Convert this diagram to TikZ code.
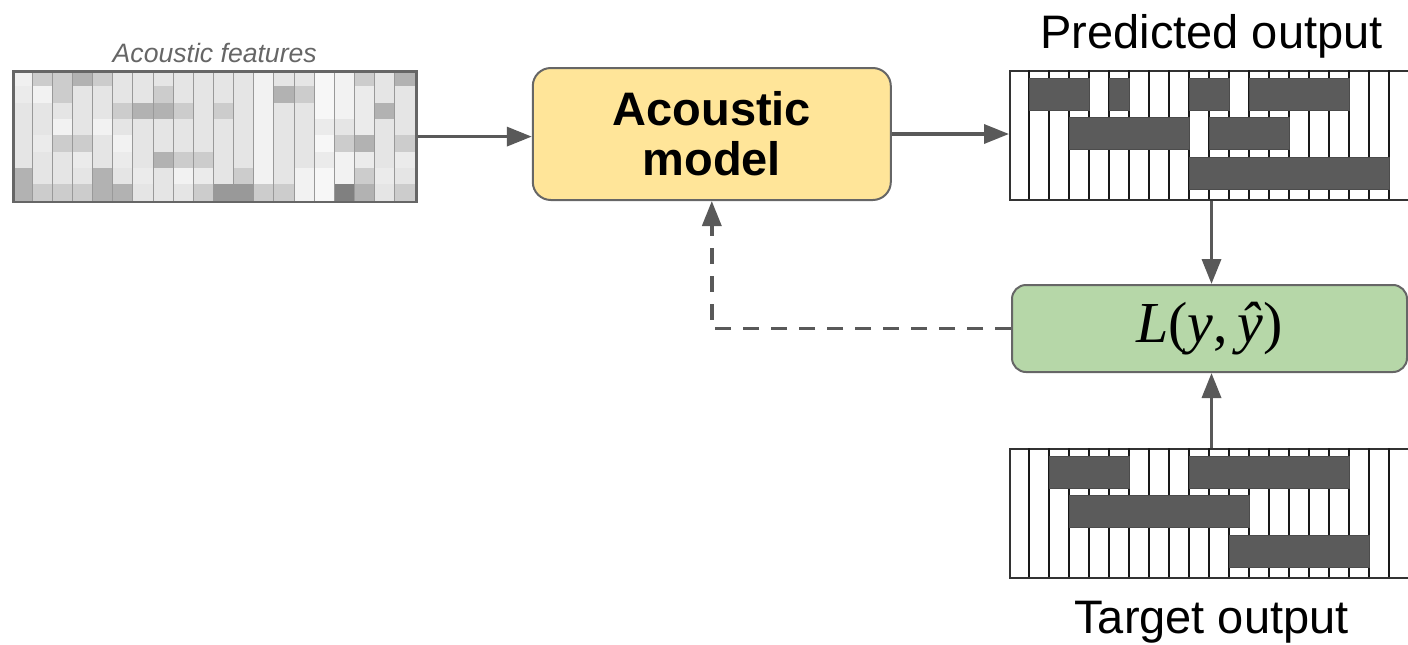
\documentclass[tikz,border=0pt]{standalone}
\usepackage{fontspec}
\setmainfont{Liberation Sans}
\newfontfamily\lossfont{Liberation Serif}
\usetikzlibrary{arrows.meta,positioning}

\definecolor{modelfill}{HTML}{FFE599}
\definecolor{lossfill}{HTML}{B6D7A8}
\definecolor{edgegray}{HTML}{666666}
\definecolor{linkgray}{HTML}{595959}
\definecolor{notegray}{HTML}{5B5B5B}

\tikzset{
  box/.style={draw=edgegray, line width=2pt, rounded corners=18pt, inner sep=0pt},
  roll/.style={draw=black!80, line width=2pt, anchor=north west,
    minimum width=403pt, minimum height=129pt, inner sep=0pt},
  gridline/.style={draw=black!90, line width=1.3pt},
  note/.style={fill=notegray, draw=black!70, line width=0.8pt},
  link/.style={draw=linkgray, line width=3.5pt, -{Triangle[length=25pt,width=19pt]}},
  feedback/.style={link, dash pattern=on 16pt off 12pt},
  caption/.style={inner sep=0pt, font=\fontsize{47}{47}\selectfont},
}

\begin{document}
\begin{tikzpicture}[x=1pt, y=-1pt]
      \useasboundingbox (0, 0) rectangle (1408, 645);

      % feature matrix, one list of grey levels per frame
      \begin{scope}[shift={(12, 70)}]
        \foreach \column [count=\c from 0] in {
            {94,92,90,90,90,90,70,70}, {80,95,90,90,92,90,90,80},
            {80,80,90,95,80,90,90,80}, {70,90,90,90,80,92,90,80},
            {80,90,90,95,90,90,70,70}, {90,90,80,90,95,92,90,70},
            {90,90,70,90,90,90,92,90}, {90,80,70,90,90,70,90,90},
            {90,90,80,90,90,80,95,90}, {90,90,90,90,90,80,92,80},
            {90,90,80,90,90,90,90,60}, {90,90,90,90,90,90,80,60},
            {95,95,95,95,95,95,95,80}, {90,70,90,90,90,90,90,80},
            {90,80,90,90,90,90,95,95}, {97,97,97,92,97,92,97,97},
            {95,95,95,90,80,95,95,50}, {80,92,92,92,70,92,80,70},
            {90,90,70,90,90,90,92,90}, {70,90,90,90,80,92,90,80}}
          \foreach \g [count=\r from 0] in \column
            \fill [white!\g!black] (20.15*\c, 16.34*\r) rectangle ++(20.15, 16.34);
        \foreach \c in {1,...,19}
          \draw [black!40, line width=1pt] (20.15*\c, 0) -- (20.15*\c, 130.7);
      \end{scope}
      \node (feat) [draw=edgegray, line width=2.5pt, anchor=north west,
        minimum width=403pt, minimum height=130.7pt, inner sep=0pt] at (12, 70) {};
      \node (featlabel) [above=7pt of feat, inner sep=0pt, text=edgegray,
        font=\fontsize{26.6}{27}\selectfont\itshape] {Acoustic features};

      \node (model) [box, fill=modelfill, minimum width=358pt, minimum height=132pt,
        align=center, font=\bfseries\fontsize{47}{50}\selectfont] at (711.8, 134) {Acoustic\\model};

      \node (pred) [roll] at (1009, 70) {};
      \node (target) [roll] at (1009, 448) {};
      \foreach \roll/\notes in {pred/{1/4/0, 5/6/0, 9/11/0, 12/17/0, 3/9/1, 10/14/1, 9/19/2},
                                target/{2/6/0, 9/17/0, 3/12/1, 11/18/2}} {
        \begin{scope}[shift={(\roll.north west)}]
          \foreach \i in {1,...,19}
            \draw [gridline] (20*\i, 0) -- (20*\i, 129);
          \foreach \a/\b/\r in \notes
            \filldraw [note] (20*\a, 8+39.5*\r) rectangle (20*\b, 40+39.5*\r);
        \end{scope}
      }
      \node (predlabel) [caption, above=12pt of pred] {Predicted output};
      \node (targetlabel) [caption, below=22pt of target] {Target output};

      \node (loss) [box, fill=lossfill, rounded corners=14pt, minimum width=395pt,
        minimum height=87pt, font=\lossfont\fontsize{58}{58}\selectfont] at (1209.5, 328.5)
        {\textit{L}(\textit{y},\,\textit{ŷ})};

      \draw [link] (feat.east) -- (feat.east -| model.west);
      \draw [link] (model.east) -- (model.east -| pred.west);
      \draw [link] (pred.south) -- (pred.south |- loss.north);
      \draw [link] (target.north) -- (target.north |- loss.south);
      \draw [feedback] (loss.west) -| (model.south);
\end{tikzpicture}
\end{document}
